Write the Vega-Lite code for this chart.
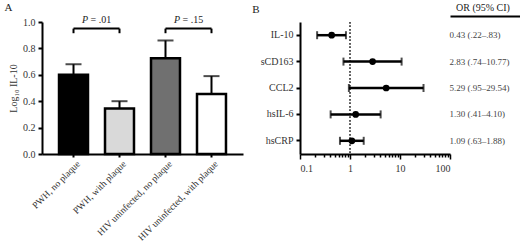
{
  "$schema": "https://vega.github.io/schema/vega-lite/v6.json",
  "padding": {"left": 4, "top": 2, "right": 0, "bottom": 0},
  "background": "white",
  "config": {
    "font": "Liberation Serif",
    "view": {"stroke": null},
    "axis": {"labelFont": "Liberation Serif", "titleFont": "Liberation Serif", "labelColor": "#333", "titleColor": "#333", "domainColor": "black", "tickColor": "black", "grid": false, "labelFontSize": 10, "titleFontSize": 10, "titleFontWeight": "normal", "labelOverlap": false},
    "title": {"font": "Liberation Serif", "fontSize": 11, "fontWeight": "normal", "color": "#222", "anchor": "start"}
  },
  "datasets": {
    "bars": [
      {"group": "PWH, no plaque", "mean": 0.6, "upper": 0.68},
      {"group": "PWH, with plaque", "mean": 0.345, "upper": 0.4},
      {"group": "HIV uninfected, no plaque", "mean": 0.725, "upper": 0.86},
      {"group": "HIV uninfected, with plaque", "mean": 0.455, "upper": 0.59}
    ],
    "brackets": [
      {"from": "PWH, no plaque", "to": "PWH, with plaque", "y": 0.95, "ylo": 0.915, "ylab": 0.99, "p": "P", "rest": "= .01"},
      {"from": "HIV uninfected, no plaque", "to": "HIV uninfected, with plaque", "y": 0.95, "ylo": 0.915, "ylab": 0.99, "p": "P", "rest": "= .15"}
    ],
    "forest": [
      {"marker": "IL-10", "or": 0.43, "lo": 0.22, "hi": 0.83, "label": "0.43 (.22–.83)"},
      {"marker": "sCD163", "or": 2.83, "lo": 0.74, "hi": 10.77, "label": "2.83 (.74–10.77)"},
      {"marker": "CCL2", "or": 5.29, "lo": 0.95, "hi": 29.54, "label": "5.29 (.95–29.54)"},
      {"marker": "hsIL-6", "or": 1.3, "lo": 0.41, "hi": 4.1, "label": "1.30 (.41–4.10)"},
      {"marker": "hsCRP", "or": 1.09, "lo": 0.63, "hi": 1.88, "label": "1.09 (.63–1.88)"}
    ]
  },
  "bounds": "flush",
  "spacing": 57,
  "hconcat": [
    {
      "width": 201,
      "height": 132,
      "title": {"text": "A", "offset": 2, "dx": -4},
      "encoding": {
        "x": {"field": "group", "type": "nominal", "sort": null,
          "scale": {"domain": ["PWH, no plaque", "PWH, with plaque", "HIV uninfected, no plaque", "HIV uninfected, with plaque"], "paddingInner": 0.37, "paddingOuter": 0.37},
          "axis": {"title": null, "labelAngle": -45, "labelAlign": "right", "labelBaseline": "middle", "tickSize": 3, "tickWidth": 2, "domainWidth": 2, "labelPadding": 5, "labelOffset": 5, "labelFontSize": 9.5}},
        "y": {"field": "mean", "type": "quantitative",
          "scale": {"domain": [0, 1], "nice": false},
          "axis": {"title": "Log₁₀ IL-10", "values": [0, 0.2, 0.4, 0.6, 0.8, 1], "tickCount": 6, "labelOverlap": false, "format": ".1f", "tickSize": 4, "tickWidth": 2, "domainWidth": 2, "labelPadding": 3, "titlePadding": 4}}
      },
      "layer": [
        {
          "data": {"name": "bars"},
          "mark": {"type": "rule", "strokeWidth": 2, "color": "black"},
          "encoding": {
            "y2": {"field": "upper"}
          }
        },
        {
          "data": {"name": "bars"},
          "mark": {"type": "tick", "size": 16, "thickness": 2, "color": "black"},
          "encoding": {
            "y": {"field": "upper", "type": "quantitative"}
          }
        },
        {
          "data": {"name": "bars"},
          "mark": {"type": "bar", "stroke": "black", "strokeWidth": 2.5},
          "encoding": {
            "fill": {"field": "group", "type": "nominal", "sort": null,
              "scale": {"domain": ["PWH, no plaque", "PWH, with plaque", "HIV uninfected, no plaque", "HIV uninfected, with plaque"], "range": ["#000000", "#d9d9d9", "#707070", "#ffffff"]},
              "legend": null}
          }
        },
        {
          "data": {"name": "brackets"},
          "mark": {"type": "rule", "strokeWidth": 2, "color": "black"},
          "encoding": {
            "x": {"field": "from", "type": "nominal", "sort": null},
            "x2": {"field": "to"},
            "y": {"field": "y", "type": "quantitative"}
          }
        },
        {
          "data": {"name": "brackets"},
          "transform": [{"fold": ["from", "to"], "as": ["end", "cat"]}],
          "mark": {"type": "rule", "strokeWidth": 2, "color": "black"},
          "encoding": {
            "x": {"field": "cat", "type": "nominal", "sort": null},
            "y": {"field": "ylo", "type": "quantitative"},
            "y2": {"field": "y"}
          }
        },
        {
          "data": {"name": "brackets"},
          "mark": {"type": "text", "fontSize": 10, "fontStyle": "italic", "color": "#222", "baseline": "alphabetic", "align": "right", "dx": 14.5},
          "encoding": {
            "x": {"field": "from", "type": "nominal", "sort": null},
            "y": {"field": "ylab", "type": "quantitative"},
            "text": {"field": "p"}
          }
        },
        {
          "data": {"name": "brackets"},
          "mark": {"type": "text", "fontSize": 10, "color": "#222", "baseline": "alphabetic", "align": "left", "dx": 17},
          "encoding": {
            "x": {"field": "from", "type": "nominal", "sort": null},
            "y": {"field": "ylab", "type": "quantitative"},
            "text": {"field": "rest"}
          }
        }
      ]
    },
    {
      "bounds": "flush",
      "spacing": 0,
      "hconcat": [
        {
          "width": 150,
          "height": 132,
          "title": {"text": "B", "offset": 7, "dx": -8},
          "data": {"name": "forest"},
          "layer": [
            {
              "mark": {"type": "rule", "strokeDash": [1.5, 2], "color": "#555", "strokeWidth": 1},
              "encoding": {"x": {"datum": 1, "type": "quantitative"}}
            },
            {
              "mark": {"type": "rule", "strokeWidth": 2.5, "color": "black"},
              "encoding": {
                "y": {"field": "marker", "type": "nominal", "sort": null},
                "x": {"field": "lo", "type": "quantitative"},
                "x2": {"field": "hi"}
              }
            },
            {
              "mark": {"type": "tick", "orient": "vertical", "size": 8, "thickness": 2, "color": "black"},
              "encoding": {
                "y": {"field": "marker", "type": "nominal", "sort": null},
                "x": {"field": "lo", "type": "quantitative"}
              }
            },
            {
              "mark": {"type": "tick", "orient": "vertical", "size": 8, "thickness": 2, "color": "black"},
              "encoding": {
                "y": {"field": "marker", "type": "nominal", "sort": null},
                "x": {"field": "hi", "type": "quantitative"}
              }
            },
            {
              "mark": {"type": "point", "filled": true, "size": 45, "color": "black", "opacity": 1},
              "encoding": {
                "y": {"field": "marker", "type": "nominal", "sort": null,
                  "axis": {"title": null, "tickSize": 4, "tickWidth": 2, "domainWidth": 2, "labelPadding": 3}},
                "x": {"field": "or", "type": "quantitative",
                  "scale": {"type": "log", "domain": [0.1, 100], "nice": false},
                  "axis": {"title": null, "format": "~g",
                    "values": [0.1, 0.2, 0.3, 0.4, 0.5, 0.6, 0.7, 0.8, 0.9, 1, 2, 3, 4, 5, 6, 7, 8, 9, 10, 20, 30, 40, 50, 60, 70, 80, 90, 100],
                    "labelExpr": "indexof([0.1, 1, 10, 100], datum.value) >= 0 ? datum.label : ''",
                    "tickSize": {"condition": {"test": "indexof([0.1, 1, 10, 100], datum.value) >= 0", "value": 5}, "value": 3},
                    "tickWidth": 1.5, "domainWidth": 2, "labelPadding": 4}}
              }
            }
          ]
        },
        {
          "width": 71,
          "height": 132,
          "data": {"name": "forest"},
          "mark": {"type": "text", "align": "left", "dx": -36, "fontSize": 9, "color": "#444"},
          "encoding": {
            "y": {"field": "marker", "type": "nominal", "sort": null, "axis": null},
            "x": {"datum": "OR (95% CI)", "type": "nominal",
              "axis": {"orient": "top", "title": null, "ticks": false, "domainWidth": 2, "offset": 6, "labelAngle": 0, "labelPadding": 4, "labelOffset": -3, "labelColor": "#222"}},
            "text": {"field": "label"}
          }
        }
      ]
    }
  ]
}
